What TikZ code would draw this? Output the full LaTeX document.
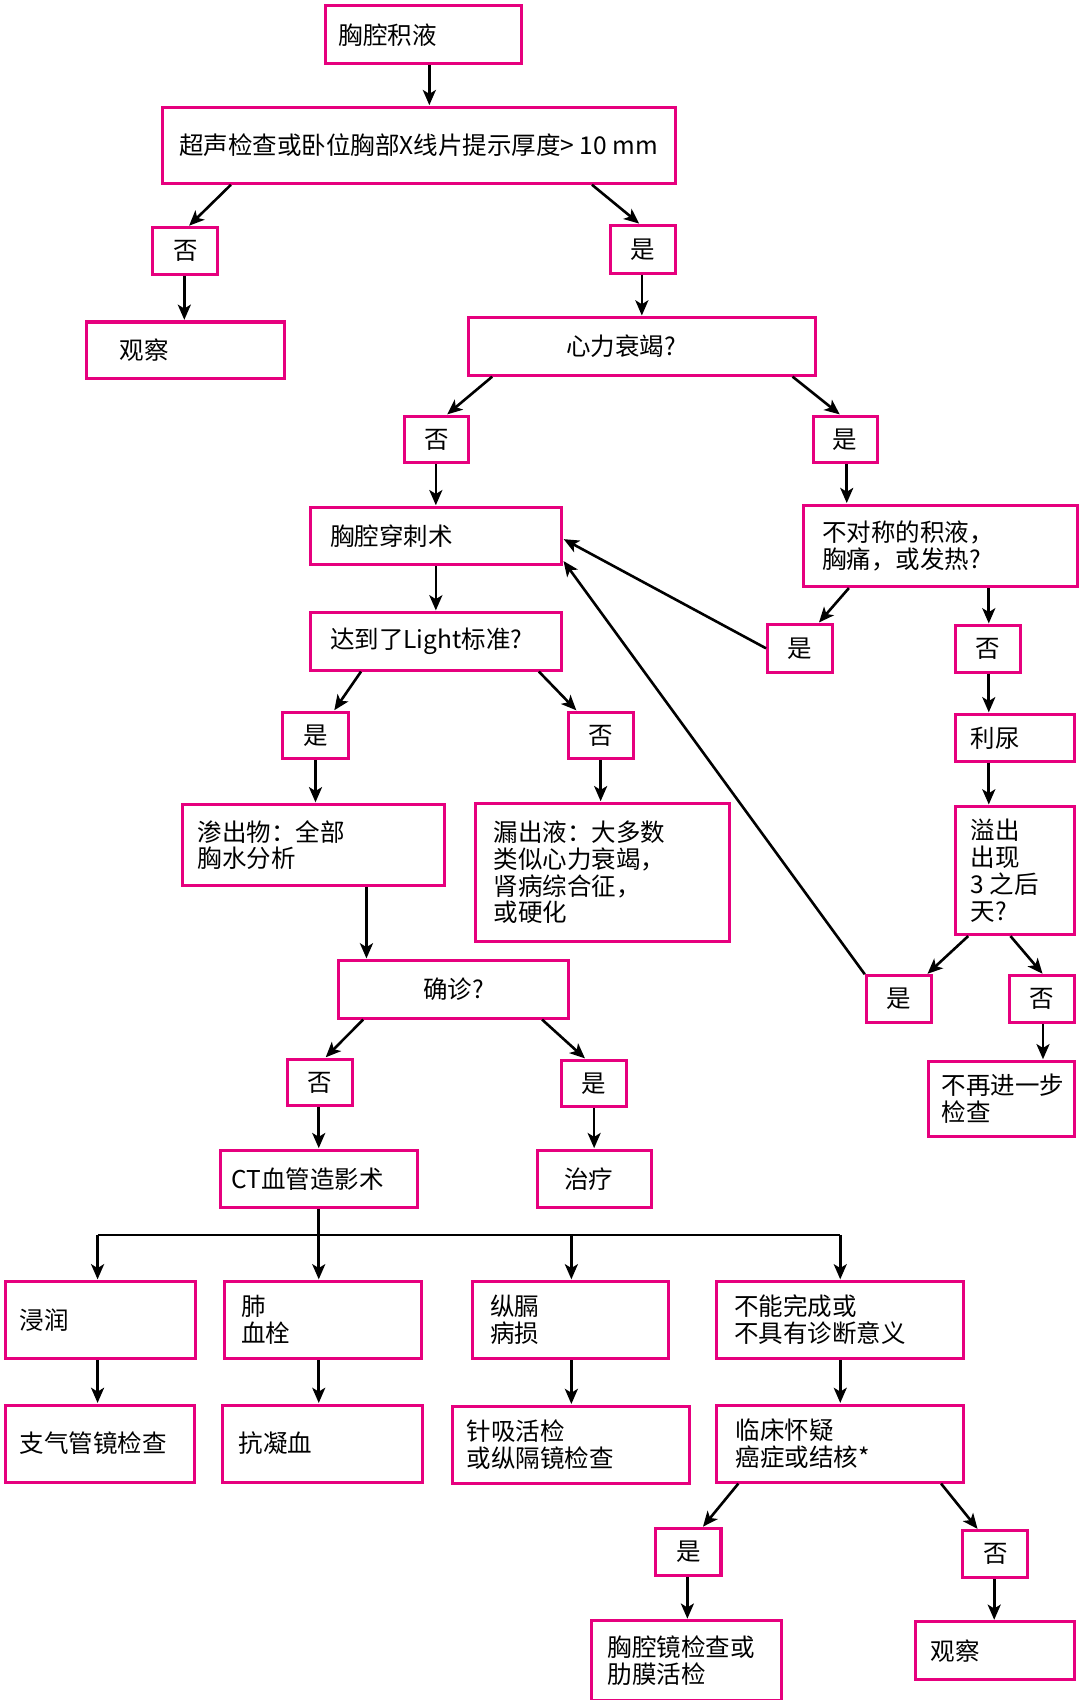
\documentclass[tikz,border=0pt]{standalone}
\usepackage{fontspec}
\newfontfamily\cjk{Noto Sans CJK SC}
\usetikzlibrary{arrows.meta}
\definecolor{mag}{RGB}{230,0,126}
\tikzset{
  pbox/.style={draw=mag, line width=1.4pt, rectangle, inner sep=0pt, font=\cjk\fontsize{11.3}{12.4}\selectfont},
  txt/.style={inner sep=0pt, align=left, font=\cjk\fontsize{11.3}{12.4}\selectfont},
  ln/.style={line width=1.2pt, black},
  arr/.style={ln, -{Stealth[length=7pt,width=6pt,inset=1.8pt]}, shorten >=0.3pt}
}
% box with left-aligned text: name, x1, y1, x2, y2, text x, text
\newcommand\bx[7]{%
  \node[pbox, minimum width={(#4-#2)*0.5pt}, minimum height={(#5-#3)*0.5pt}] (#1) at ({(#2+#4)/2},{(#3+#5)/2}) {};
  \node[txt, anchor=west] (#1-t) at (#6,{(#3+#5)/2}) {#7};}
% small yes/no box: name, x1, y1, x2, y2, text
\newcommand\sbx[6]{%
  \node[pbox, minimum width={(#4-#2)*0.5pt}, minimum height={(#5-#3)*0.5pt}] (#1) at ({(#2+#4)/2},{(#3+#5)/2}) {#6};}
% connector from bottom of a at x to top of b at x
\newcommand\dg[4]{\draw[arr] (#1.south -| #2,0) -- (#3.north -| #4,0);}
\begin{document}
\begin{tikzpicture}[x=0.5pt,y=-0.5pt]
\useasboundingbox (0,0) rectangle (996,1568);
% boxes
\bx{top}{300}{5}{481}{59}{312}{胸腔积液}
\bx{sc}{150}{99}{623}{169}{165}{超声检查或卧位胸部X线片提示厚度> 10 mm}
\sbx{n1}{141}{210}{201}{253}{否}
\sbx{y1}{563}{208}{623}{252}{是}
\bx{obsa}{80}{297}{262}{349}{110}{观察}
\bx{hf}{432}{293}{752}{346}{522}{心力衰竭?}
\sbx{n2}{373}{384}{432}{427}{否}
\sbx{y2}{750}{384}{809}{427}{是}
\bx{tap}{286}{468}{518}{521}{304}{胸腔穿刺术}
\bx{asym}{741}{466}{994}{541}{758}{不对称的积液，\\胸痛，或发热?}
\bx{light}{286}{565}{518}{618}{304}{达到了Light标准?}
\sbx{y3}{708}{576}{768}{620}{是}
\sbx{n3}{881}{577}{941}{620}{否}
\sbx{y4}{261}{657}{321}{700}{是}
\sbx{n4}{524}{657}{584}{700}{否}
\bx{diur}{881}{659}{991}{702}{895}{利尿}
\bx{exu}{168}{742}{410}{817}{182}{渗出物：全部\\胸水分析}
\bx{tran}{439}{741}{673}{868}{455}{漏出液：大多数\\类似心力衰竭，\\肾病综合征，\\或硬化}
\bx{ovf}{881}{744}{991}{862}{895}{溢出\\出现\\3 之后\\天?}
\bx{dx}{312}{886}{524}{939}{390}{确诊?}
\sbx{y5}{799}{900}{859}{943}{是}
\sbx{n5}{931}{900}{991}{943}{否}
\sbx{n6}{265}{977}{325}{1020}{否}
\sbx{y6}{518}{978}{578}{1021}{是}
\bx{nf}{856}{979}{991}{1048}{868}{不再进一步\\检查}
\bx{ct}{203}{1061}{385}{1114}{213}{CT血管造影术}
\bx{treat}{496}{1061}{601}{1114}{520}{治疗}
\bx{inf}{5}{1182}{180}{1253}{18}{浸润}
\bx{pe}{207}{1182}{389}{1253}{222}{肺\\血栓}
\bx{med}{436}{1182}{617}{1253}{452}{纵膈\\病损}
\bx{nc}{661}{1182}{889}{1253}{677}{不能完成或\\不具有诊断意义}
\bx{bron}{5}{1296}{179}{1367}{18}{支气管镜检查}
\bx{anti}{205}{1296}{390}{1367}{220}{抗凝血}
\bx{nb}{417}{1297}{636}{1368}{430}{针吸活检\\或纵隔镜检查}
\bx{clin}{661}{1296}{889}{1367}{678}{临床怀疑\\癌症或结核*}
\sbx{y7}{605}{1410}{665}{1453}{是}
\sbx{n7}{888}{1412}{948}{1455}{否}
\bx{thor}{546}{1495}{721}{1568}{560}{胸腔镜检查或\\肋膜活检}
\bx{obsb}{844}{1496}{991}{1549}{858}{观察}
% connectors
\dg{top}{396}{sc}{396}
\dg{sc}{213}{n1}{174}
\dg{sc}{546}{y1}{590}
\dg{n1}{170}{obsa}{170}
\dg{y1}{592}{hf}{592}
\dg{hf}{454}{n2}{412}
\dg{hf}{731}{y2}{775}
\dg{n2}{402}{tap}{402}
\dg{y2}{781}{asym}{781}
\dg{tap}{402}{light}{402}
\dg{asym}{783}{y3}{755}
\dg{asym}{912}{n3}{912}
\draw[arr] (y3.west) -- (tap.east |- 0,497);
\draw[arr] (y5.north west) -- (tap.east |- 0,517);
\dg{light}{333}{y4}{308}
\dg{light}{497}{n4}{532}
\dg{y4}{291}{exu}{291}
\dg{n4}{554}{tran}{554}
\dg{n3}{912}{diur}{912}
\dg{diur}{912}{ovf}{912}
\dg{ovf}{893}{y5}{855}
\dg{ovf}{932}{n5}{962}
\dg{n5}{962}{nf}{962}
\dg{exu}{338}{dx}{338}
\dg{dx}{335}{n6}{300}
\dg{dx}{500}{y6}{540}
\dg{n6}{294}{ct}{294}
\dg{y6}{548}{treat}{548}
% bus
\coordinate (busa) at (90,1139);
\coordinate (busc) at (527,1139);
\coordinate (busd) at (775,1139);
\draw[ln] (busa) -- (busd);
\dg{ct}{294}{pe}{294}
\draw[arr] (busa) -- (inf.north -| busa);
\draw[arr] (busc) -- (med.north -| busc);
\draw[arr] (busd) -- (nc.north -| busd);
\dg{inf}{90}{bron}{90}
\dg{pe}{294}{anti}{294}
\dg{med}{527}{nb}{527}
\dg{nc}{775}{clin}{775}
\dg{clin}{681}{y7}{648}
\dg{clin}{868}{n7}{902}
\dg{y7}{634}{thor}{634}
\dg{n7}{917}{obsb}{917}
\end{tikzpicture}
\end{document}
